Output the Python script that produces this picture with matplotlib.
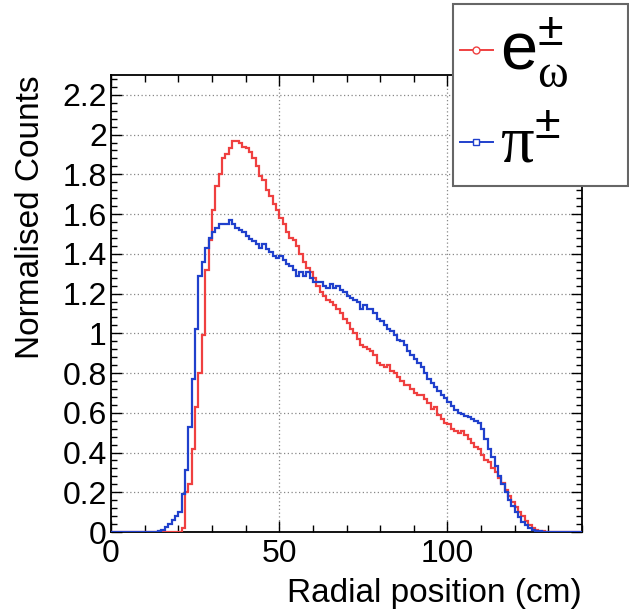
import numpy as np
import matplotlib
matplotlib.use("Agg")
import matplotlib.pyplot as plt
from matplotlib.lines import Line2D
from matplotlib.patches import Rectangle
from matplotlib.ticker import MultipleLocator

plt.rcParams['font.family'] = ['Liberation Sans', 'DejaVu Sans']
plt.rcParams['mathtext.fontset'] = 'custom'
plt.rcParams['mathtext.rm'] = 'Liberation Sans'
plt.rcParams['mathtext.it'] = 'Liberation Sans:italic'
plt.rcParams['mathtext.sf'] = 'Liberation Serif'   # used for the greek letters

# Data: 1 cm bins from 0 to 140 cm
bin_edges = np.arange(0, 141, 1)

# e± (omega) : values starting at bin 21 cm
e_first_bin = 21
e_counts = [0.02, 0.20, 0.24, 0.42, 0.63, 0.80, 0.99, 1.32, 1.47, 1.62,
            1.74, 1.80, 1.88, 1.90, 1.93, 1.97, 1.97, 1.96, 1.94, 1.93,
            1.91, 1.88, 1.84, 1.79, 1.77, 1.72, 1.69, 1.65, 1.62, 1.58,
            1.55, 1.51, 1.48, 1.47, 1.44, 1.40, 1.36, 1.33, 1.31, 1.28,
            1.24, 1.21, 1.19, 1.17, 1.16, 1.14, 1.12, 1.10, 1.07, 1.05,
            1.02, 1.00, 0.97, 0.94, 0.93, 0.92, 0.91, 0.89, 0.85, 0.84,
            0.83, 0.84, 0.81, 0.80, 0.78, 0.76, 0.74, 0.74, 0.72, 0.70,
            0.69, 0.69, 0.67, 0.65, 0.62, 0.63, 0.59, 0.57, 0.55, 0.545,
            0.52, 0.51, 0.50, 0.51, 0.49, 0.47, 0.45, 0.43, 0.42, 0.39,
            0.36, 0.35, 0.32, 0.30, 0.27, 0.245, 0.21, 0.18, 0.15, 0.125,
            0.10, 0.08, 0.055, 0.035, 0.02, 0.012, 0.006, 0.003, 0.001]

# pi± : values starting at bin 14 cm
pi_first_bin = 14
pi_counts = [0.003, 0.01, 0.025, 0.04, 0.06, 0.08, 0.10, 0.19, 0.31, 0.53,
             0.77, 1.02, 1.29, 1.36, 1.43, 1.48, 1.51, 1.53, 1.55, 1.55,
             1.55, 1.57, 1.55, 1.53, 1.52, 1.51, 1.49, 1.475, 1.465, 1.45,
             1.43, 1.45, 1.425, 1.41, 1.39, 1.38, 1.39, 1.37, 1.35, 1.34,
             1.32, 1.29, 1.31, 1.29, 1.31, 1.28, 1.26, 1.26, 1.26, 1.24,
             1.23, 1.25, 1.23, 1.24, 1.22, 1.21, 1.19, 1.18, 1.17, 1.16,
             1.12, 1.14, 1.12, 1.12, 1.10, 1.07, 1.06, 1.04, 1.02, 1.01,
             0.99, 0.965, 0.96, 0.94, 0.91, 0.89, 0.87, 0.85, 0.83, 0.80,
             0.77, 0.75, 0.73, 0.71, 0.69, 0.675, 0.655, 0.635, 0.615, 0.60,
             0.595, 0.585, 0.58, 0.57, 0.56, 0.55, 0.52, 0.47, 0.42, 0.38,
             0.33, 0.28, 0.24, 0.20, 0.16, 0.13, 0.10, 0.075, 0.05, 0.035,
             0.02, 0.012, 0.006, 0.003, 0.001]

e_label = r'$\mathrm{e}^{\pm}_{\mathsf{ω}}$'
pi_label = r'$\mathsf{π}^{\pm}$'

e_color = '#ef4040'
pi_color = '#2040cc'

# Build full histograms
n_bins = len(bin_edges) - 1
e_hist = np.zeros(n_bins)
e_hist[e_first_bin:e_first_bin + len(e_counts)] = e_counts
pi_hist = np.zeros(n_bins)
pi_hist[pi_first_bin:pi_first_bin + len(pi_counts)] = pi_counts

# Figure
fig = plt.figure(figsize=(6.29, 6.13), dpi=100)
ax = fig.add_axes([0.1765, 0.1321, 0.7488, 0.7456])

ax.stairs(e_hist, bin_edges, color=e_color, lw=1.6, zorder=3)
ax.stairs(pi_hist, bin_edges, color=pi_color, lw=1.6, zorder=4)

ax.set_xlim(0, 140)
ax.set_ylim(0, 2.3)

# Ticks, ROOT style
ax.xaxis.set_major_locator(MultipleLocator(50))
ax.xaxis.set_minor_locator(MultipleLocator(10))
ax.yaxis.set_major_locator(MultipleLocator(0.2))
ax.yaxis.set_minor_locator(MultipleLocator(0.04))
ax.tick_params(which='both', direction='in', top=True, right=True, width=1.0)
ax.tick_params(which='major', length=8)
ax.tick_params(which='minor', length=4)
ax.tick_params(axis='x', which='minor', length=5)
ax.tick_params(axis='y', labelsize=23, pad=3)
ax.tick_params(axis='x', labelsize=23, pad=5)
ax.set_yticks(np.arange(0, 2.21, 0.2))
ax.set_yticklabels(['0', '0.2', '0.4', '0.6', '0.8', '1', '1.2', '1.4',
                    '1.6', '1.8', '2', '2.2'])
for s in ax.spines.values():
    s.set_linewidth(1.3)

ax.grid(True, which='major', color='#888888', linestyle=(0, (1, 2)), linewidth=0.9, zorder=1)

# Axis titles
ax.set_xlabel('Radial position (cm)', fontsize=24, ha='right', va='center')
ax.xaxis.set_label_coords(1.0, -0.135)
ax.set_ylabel('Normalised Counts', fontsize=24, ha='right', va='center')
ax.yaxis.set_label_coords(-0.172, 1.0)

# Legend box drawn by hand, partly outside the frame like the original
box = Rectangle((0.7202, 0.6966), 0.2782, 0.2969, transform=fig.transFigure,
                facecolor='white', edgecolor='#666666', lw=1.5, zorder=10)
fig.add_artist(box)
fig.add_artist(Line2D([0.731, 0.784], [0.918, 0.918], transform=fig.transFigure,
                      color=e_color, lw=1.4, zorder=11))
fig.add_artist(Line2D([0.7575], [0.918], transform=fig.transFigure, color=e_color,
                      marker='o', markersize=5, markerfacecolor='white', lw=0, zorder=12))
fig.add_artist(Line2D([0.731, 0.784], [0.768, 0.768], transform=fig.transFigure,
                      color=pi_color, lw=1.4, zorder=11))
fig.add_artist(Line2D([0.7575], [0.768], transform=fig.transFigure, color=pi_color,
                      marker='s', markersize=5, markerfacecolor='white', lw=0, zorder=12))
fig.text(0.795, 0.886, e_label, fontsize=48, va='baseline', ha='left', zorder=12)
fig.text(0.795, 0.735, pi_label, fontsize=48, va='baseline', ha='left', zorder=12)

fig.savefig('out.png', dpi=100, facecolor='white')
